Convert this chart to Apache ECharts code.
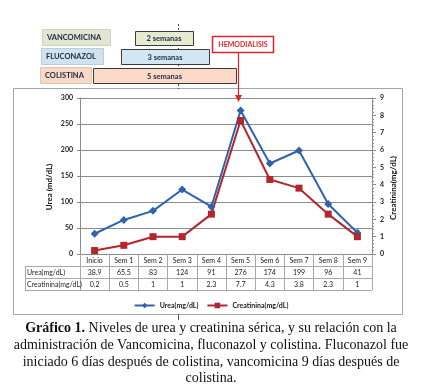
<!DOCTYPE html>
<html><head><meta charset="utf-8">
<script src="https://cdn.jsdelivr.net/npm/echarts@6/dist/echarts.min.js"></script>
<style>html,body{margin:0;padding:0;background:#fff;}#c{width:422px;height:388px;}</style>
</head><body><div id="c"></div>
<script>
// ---- data ----
const categories = ['Inicio','Sem 1','Sem 2','Sem 3','Sem 4','Sem 5','Sem 6','Sem 7','Sem 8','Sem 9'];
const urea = [38.9, 65.5, 83, 124, 91, 276, 174, 199, 96, 41];
const creatinina = [0.2, 0.5, 1, 1, 2.3, 7.7, 4.3, 3.8, 2.3, 1];
const seriesNames = ['Urea(mg/dL)', 'Creatinina(mg/dL)'];
const leftAxisRange = [0, 300, 50];
const rightAxisRange = [0, 9, 1];
const leftAxisTitle = 'Urea (md/dL)';
const rightAxisTitle = 'Creatinina(mg/dL)';
const drugNames = ['VANCOMICINA', 'FLUCONAZOL', 'COLISTINA'];
const durations = ['2 semanas', '3 semanas', '5 semanas'];
const eventLabel = 'HEMODIALISIS';
const captionLines = [
  ['Gráfico 1.', ' Niveles de urea y creatinina sérica, y su relación con la'],
  ['', 'administración de Vancomicina, fluconazol y colistina. Fluconazol fue'],
  ['', 'iniciado 6 días después de colistina, vancomicina 9 días después de'],
  ['', 'colistina.']
];

// ---- layout / style ----
const FONT = 'Lato';
const SERIF = 'Liberation Serif';
const GL = 80, GR = 372, GT = 98, GB = 254;
const ROW = 12;
const TABLE_LEFT = 25;
const lineColors = ['#2f63ab', '#b0282d'];
const gridGray = '#8c8c8c';
const tableGray = '#a8a8a8';

const chart = echarts.init(document.getElementById('c'), null, {renderer: 'canvas'});

const baseOption = {
  animation: false,
  backgroundColor: '#fff',
  textStyle: {fontFamily: FONT},
  grid: {left: GL, right: 422 - GR, top: GT, bottom: 388 - GB, containLabel: false},
  legend: {
    data: seriesNames,
    top: 297, left: 'center',
    itemWidth: 20, itemHeight: 7, itemGap: 8,
    textStyle: {fontFamily: FONT, fontSize: 7, fontWeight: 'bold', color: '#222'}
  },
  xAxis: {
    type: 'category', data: categories, boundaryGap: true,
    axisLine: {lineStyle: {color: gridGray, width: 1}},
    axisTick: {show: true, interval: 0, length: ROW * 3, lineStyle: {color: tableGray}},
    axisLabel: {interval: 0, fontSize: 7, margin: 3, color: '#222', fontFamily: FONT}
  },
  yAxis: [
    {
      type: 'value', min: leftAxisRange[0], max: leftAxisRange[1], interval: leftAxisRange[2],
      axisLine: {show: true, lineStyle: {color: gridGray}},
      axisTick: {show: true, length: 3, lineStyle: {color: gridGray}},
      axisLabel: {fontSize: 7, fontWeight: 'bold', color: '#222', margin: 7, fontFamily: FONT},
      splitLine: {show: true, lineStyle: {color: gridGray, width: 1}}
    },
    {
      type: 'value', min: rightAxisRange[0], max: rightAxisRange[1], interval: rightAxisRange[2],
      position: 'right',
      axisLine: {show: true, lineStyle: {color: gridGray}},
      axisTick: {show: true, length: 4, lineStyle: {color: gridGray}},
      minorTick: {show: true, splitNumber: 5, length: 2, lineStyle: {color: gridGray}},
      axisLabel: {fontSize: 7, fontWeight: 'bold', color: '#222', margin: 8, fontFamily: FONT},
      splitLine: {show: false}
    }
  ],
  series: [
    {
      name: seriesNames[0], type: 'line', data: urea, yAxisIndex: 0,
      symbol: 'diamond', symbolSize: 8, color: lineColors[0],
      lineStyle: {width: 2, color: lineColors[0]},
      itemStyle: {color: lineColors[0]}
    },
    {
      name: seriesNames[1], type: 'line', data: creatinina, yAxisIndex: 1,
      symbol: 'rect', symbolSize: 7, color: lineColors[1],
      lineStyle: {width: 2, color: lineColors[1]},
      itemStyle: {color: lineColors[1]}
    }
  ]
};
chart.setOption(baseOption);

// ---- graphics: axis titles, table, annotations, caption ----
const g = [];
// outer chart border
g.push({type: 'rect', z: 0, silent: true, shape: {x: 13.5, y: 88.5, width: 389, height: 226},
  style: {fill: null, stroke: '#a6a6a6', lineWidth: 1}});

// axis titles
g.push({type: 'text', silent: true, z: 6, x: 49, y: 187, rotation: Math.PI / 2,
  style: {text: leftAxisTitle, font: 'bold 8px ' + FONT, fill: '#111', textAlign: 'center', textVerticalAlign: 'middle'}});
g.push({type: 'text', silent: true, z: 6, x: 393, y: 188, rotation: Math.PI / 2,
  style: {text: rightAxisTitle, font: 'bold 8px ' + FONT, fill: '#111', textAlign: 'center', textVerticalAlign: 'middle'}});

// table
const rowsY = [GB + ROW, GB + ROW * 2, GB + ROW * 3];
rowsY.forEach(y => g.push({type: 'line', silent: true, z: 5,
  shape: {x1: TABLE_LEFT, y1: y + 0.5, x2: GR, y2: y + 0.5}, style: {stroke: tableGray, lineWidth: 1}}));
g.push({type: 'line', silent: true, z: 5, shape: {x1: TABLE_LEFT + 0.5, y1: GB + ROW, x2: TABLE_LEFT + 0.5, y2: GB + ROW * 3},
  style: {stroke: tableGray, lineWidth: 1}});
[urea, creatinina].forEach((arr, r) => {
  const cy = GB + ROW * (r + 1) + ROW / 2 + 0.5;
  g.push({type: 'text', silent: true, z: 6, x: TABLE_LEFT + 2, y: cy,
    style: {text: seriesNames[r], font: '7px ' + FONT, fill: '#222', textAlign: 'left', textVerticalAlign: 'middle'}});
  arr.forEach((v, i) => {
    const px = chart.convertToPixel({xAxisIndex: 0}, categories[i]);
    g.push({type: 'text', silent: true, z: 6, x: px, y: cy,
      style: {text: String(v), font: '7px ' + FONT, fill: '#222', textAlign: 'center', textVerticalAlign: 'middle'}});
  });
});
// small tick below border at dashed line position
g.push({type: 'line', silent: true, z: 1, shape: {x1: 178.5, y1: 314, x2: 178.5, y2: 320}, style: {stroke: '#555', lineWidth: 1}});

// dashed start line
g.push({type: 'line', silent: true, z: 1, shape: {x1: 178.5, y1: 24, x2: 178.5, y2: 89},
  style: {stroke: '#444', lineWidth: 1, lineDash: [2, 2]}});

// treatment boxes
const labelBoxes = [
  {x: 42, y: 29, w: 68, h: 16, fill: '#e2e5d0', stroke: '#cfd3bc'},
  {x: 41, y: 48, w: 62, h: 16, fill: '#cfe2ee', stroke: '#b9cfdd'},
  {x: 40, y: 67, w: 51, h: 16, fill: '#f7d9c8', stroke: '#e4c3b0'}
];
const durBoxes = [
  {x: 135, y: 31, w: 58, h: 14, fill: '#e6ebcf'},
  {x: 121, y: 49, w: 88, h: 15, fill: '#d3e7f2'},
  {x: 93, y: 68, w: 143, h: 15, fill: '#fbdac7'}
];
labelBoxes.forEach((b, i) => {
  g.push({type: 'rect', silent: true, z: 3, shape: {x: b.x + 0.5, y: b.y + 0.5, width: b.w, height: b.h},
    style: {fill: b.fill, stroke: b.stroke, lineWidth: 1}});
  g.push({type: 'text', silent: true, z: 4, x: b.x + 5, y: b.y + b.h / 2 + 0.5,
    style: {text: drugNames[i], font: 'bold 7.5px ' + FONT, fill: '#1d2740', textAlign: 'left', textVerticalAlign: 'middle'}});
});
durBoxes.forEach((b, i) => {
  g.push({type: 'rect', silent: true, z: 3, shape: {x: b.x + 0.5, y: b.y + 0.5, width: b.w, height: b.h},
    style: {fill: b.fill, stroke: '#3a3a3a', lineWidth: 1}});
  g.push({type: 'text', silent: true, z: 4, x: b.x + b.w / 2, y: b.y + b.h / 2 + 1,
    style: {text: durations[i], font: 'bold 7.5px ' + FONT, fill: '#1d2740', textAlign: 'center', textVerticalAlign: 'middle'}});
});

// hemodialysis box + arrow
g.push({type: 'rect', silent: true, z: 3, shape: {x: 212.5, y: 36.5, width: 61, height: 16},
  style: {fill: '#fff', stroke: '#e0242a', lineWidth: 1.5}});
g.push({type: 'text', silent: true, z: 4, x: 243, y: 45,
  style: {text: eventLabel, font: 'bold 7px ' + FONT, fill: '#e0242a', textAlign: 'center', textVerticalAlign: 'middle'}});
g.push({type: 'line', silent: true, z: 7, shape: {x1: 238.5, y1: 53, x2: 238.5, y2: 97}, style: {stroke: '#e0242a', lineWidth: 1.2}});
g.push({type: 'polygon', silent: true, z: 7, shape: {points: [[235, 95], [242, 95], [238.5, 102]]}, style: {fill: '#e0242a'}});

// caption
const capY = [328, 345, 362, 378];
captionLines.forEach((ln, i) => {
  g.push({type: 'text', silent: true, z: 6, x: 211, y: capY[i],
    style: {
      text: (ln[0] ? '{b|' + ln[0] + '}' : '') + '{n|' + ln[1] + '}',
      rich: {
        b: {fontFamily: SERIF, fontSize: 14, fontWeight: 'bold', fill: '#111'},
        n: {fontFamily: SERIF, fontSize: 14, fill: '#111'}
      },
      textAlign: 'center', textVerticalAlign: 'middle'
    }});
});

chart.setOption({graphic: {elements: g}});
</script>
</body></html>
